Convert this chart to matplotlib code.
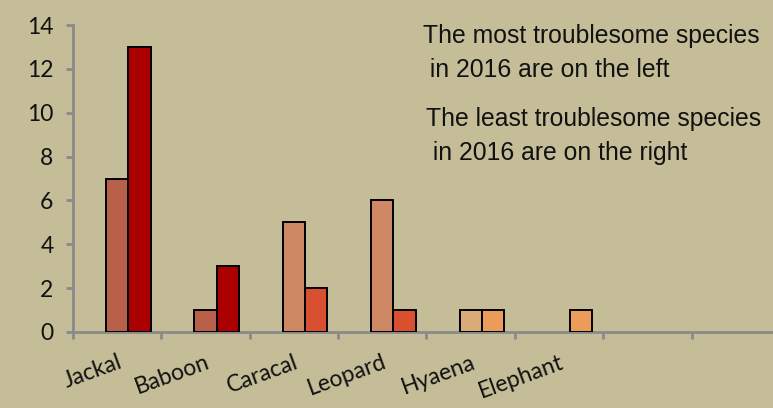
import matplotlib
matplotlib.use("Agg")
import matplotlib.pyplot as plt
import numpy as np

# ---- data ----
categories = ["Jackal", "Baboon", "Caracal", "Leopard", "Hyaena", "Elephant", "", ""]
series_1 = [0, 0, 0, 0, 0, 0, 0, 0]
series_2 = [7, 1, 5, 6, 1, 0, 0, 0]
series_3 = [13, 3, 2, 1, 1, 1, 0, 0]
y_ticks = [0, 2, 4, 6, 8, 10, 12, 14]
note_1 = "The most troublesome species\n in 2016 are on the left"
note_2 = "The least troublesome species\n in 2016 are on the right"

# ---- styles ----
BG = "#c4bd97"
AXIS = "#8a8a8a"
colors_2 = ["#b9604b", "#b9604b", "#cf8864", "#cf8864", "#d9ab79", "#d9ab79", "#d9ab79", "#d9ab79"]
colors_3 = ["#aa0000", "#aa0000", "#d8502f", "#d8502f", "#eb9c5b", "#eb9c5b", "#eb9c5b", "#eb9c5b"]
colors_1 = ["#ffffff"] * 8

W, H = 773, 408
fig = plt.figure(figsize=(W / 100, H / 100), dpi=100, facecolor=BG)
ax = fig.add_axes([73 / W, (H - 332) / H, 707 / W, 307 / H], facecolor=BG)

x = np.arange(len(categories))
bw = 0.252
for vals, cols, off in ((series_1, colors_1, -bw), (series_2, colors_2, 0.0), (series_3, colors_3, bw)):
    for xi, v, c in zip(x, vals, cols):
        if v > 0:
            ax.bar(xi + off, v, width=bw, color=c, edgecolor="black", linewidth=1.4, zorder=3)

ax.set_xlim(-0.5, len(categories) - 0.5)
ax.set_ylim(0, 14)

for s in ("top", "right"):
    ax.spines[s].set_visible(False)
for s in ("left", "bottom"):
    ax.spines[s].set_color(AXIS)
    ax.spines[s].set_linewidth(2)

tick_font = dict(family=["Lato", "DejaVu Sans"], size=16.5, color="#111111")
ax.set_yticks(y_ticks)
ax.set_yticklabels([str(t) for t in y_ticks], **tick_font)
ax.tick_params(axis="y", direction="out", length=5, width=2, color=AXIS, pad=9)

ax.set_xticks(x)
ax.set_xticks(np.arange(len(categories) + 1) - 0.5, minor=True)
ax.tick_params(axis="x", which="major", length=0, pad=14)
ax.tick_params(axis="x", which="minor", direction="out", length=5, width=2, color=AXIS)
ax.set_xticklabels(categories, rotation=20, ha="right", va="top", rotation_mode="anchor", **tick_font)

note_font = dict(family=["Liberation Sans", "DejaVu Sans"], size=17.8, color="#111111")
fig.text(423 / W, 1 - 24 / H, note_1, ha="left", va="top", linespacing=1.53, **note_font)
fig.text(426 / W, 1 - 107 / H, note_2, ha="left", va="top", linespacing=1.53, **note_font)

fig.savefig("out.png", dpi=100, facecolor=BG)
